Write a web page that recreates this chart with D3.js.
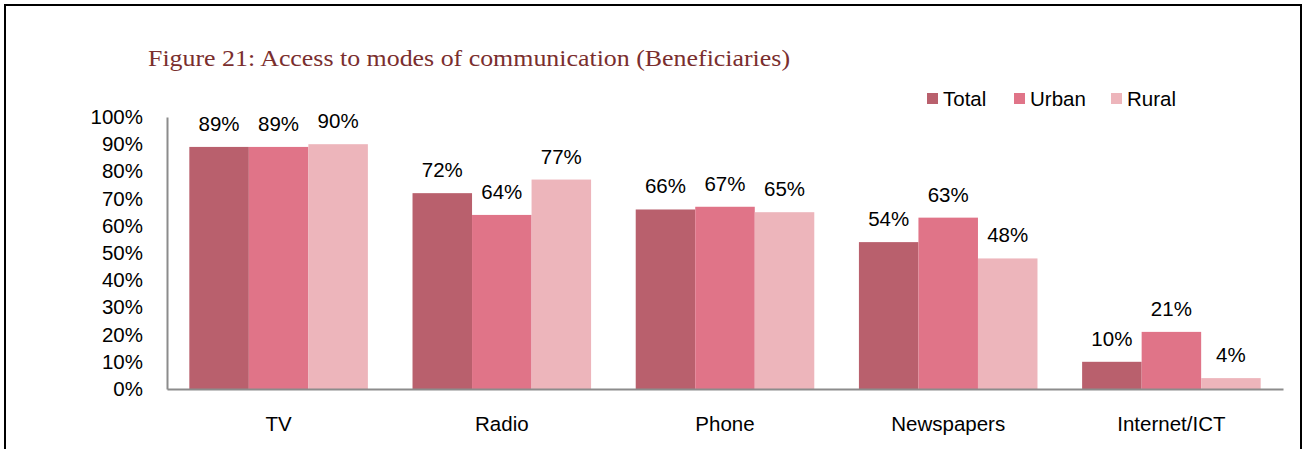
<!DOCTYPE html>
<html>
<head>
<meta charset="utf-8">
<script src="https://cdn.jsdelivr.net/npm/d3@7"></script>
<style>
  html, body { margin: 0; padding: 0; background: #fff; }
  svg { display: block; }
</style>
</head>
<body>
<svg id="chart" width="1307" height="449"></svg>
<script>
// Access to modes of communication, share of beneficiaries (%)
const categories = ["TV", "Radio", "Phone", "Newspapers", "Internet/ICT"];
const seriesNames = ["Total", "Urban", "Rural"];
const totalValues = [89, 72, 66, 54, 10];
const urbanValues = [89, 64, 67, 63, 21];
const ruralValues = [90, 77, 65, 48, 4];
const yTicks = [0, 10, 20, 30, 40, 50, 60, 70, 80, 90, 100];

const seriesValues = [totalValues, urbanValues, ruralValues];
const colors = ["#b9606d", "#e07488", "#edb5bb"];

const svg = d3.select("#chart");
const font = "'Liberation Sans', Arial, sans-serif";
const fontSize = 20.5;

// outer frame
svg.append("path")
  .attr("d", "M5,449 V5 H1301 V449")
  .attr("fill", "none")
  .attr("stroke", "#000")
  .attr("stroke-width", 2);

// title
svg.append("text")
  .attr("x", 148).attr("y", 66)
  .attr("font-family", "Georgia, 'Liberation Serif', 'DejaVu Serif', serif")
  .attr("font-size", 23)
  .attr("fill", "#7a2e2e")
  .attr("textLength", 642)
  .attr("lengthAdjust", "spacingAndGlyphs")
  .text("Figure 21: Access to modes of communication (Beneficiaries)");

const plot = { left: 167, right: 1283, top: 117, bottom: 389 };

const x0 = d3.scaleBand().domain(categories)
  .range([plot.left, plot.right]).paddingInner(0.2).paddingOuter(0.1);
const x1 = d3.scaleBand().domain(seriesNames).range([0, x0.bandwidth()]);
const y = d3.scaleLinear().domain([0, 100]).range([plot.bottom, plot.top]);

// y axis labels
const yAxis = svg.append("g")
  .attr("transform", `translate(${plot.left},0)`)
  .call(d3.axisLeft(y).tickValues(yTicks).tickSize(0).tickPadding(24)
    .tickFormat(d => d + "%"));
yAxis.select(".domain").attr("stroke", "#8c8c8c").attr("stroke-width", 2);
yAxis.selectAll("text").attr("font-family", font).attr("font-size", fontSize).attr("fill", "#000");

// bars
const groups = svg.append("g").selectAll("g")
  .data(categories)
  .join("g")
  .attr("transform", d => `translate(${x0(d)},0)`);

groups.selectAll("rect")
  .data((c, i) => seriesNames.map((s, j) => ({ s, v: seriesValues[j][i], j })))
  .join("rect")
  .attr("x", d => x1(d.s))
  .attr("y", d => y(d.v))
  .attr("width", x1.bandwidth())
  .attr("height", d => y(0) - y(d.v))
  .attr("fill", d => colors[d.j]);

groups.selectAll("text.val")
  .data((c, i) => seriesNames.map((s, j) => ({ s, v: seriesValues[j][i], j })))
  .join("text")
  .attr("class", "val")
  .attr("x", d => x1(d.s) + x1.bandwidth() / 2)
  .attr("y", d => y(d.v) - 16)
  .attr("text-anchor", "middle")
  .attr("font-family", font)
  .attr("font-size", fontSize)
  .attr("fill", "#000")
  .text(d => d.v + "%");

// x axis
const xAxis = svg.append("g")
  .attr("transform", `translate(0,${plot.bottom})`)
  .call(d3.axisBottom(x0).tickSize(0).tickPadding(27).tickSizeOuter(0));
xAxis.select(".domain").attr("stroke", "#8c8c8c").attr("stroke-width", 2);
xAxis.selectAll("text").attr("font-family", font).attr("font-size", fontSize).attr("fill", "#000");

// legend
const legendX = [927, 1014, 1111];
const legend = svg.append("g").selectAll("g")
  .data(seriesNames)
  .join("g")
  .attr("transform", (d, i) => `translate(${legendX[i]},93)`);
legend.append("rect")
  .attr("width", 11).attr("height", 11)
  .attr("fill", (d, i) => colors[i]);
legend.append("text")
  .attr("x", 16).attr("y", 13)
  .attr("font-family", font)
  .attr("font-size", fontSize)
  .attr("fill", "#000")
  .text(d => d);
</script>
</body>
</html>
